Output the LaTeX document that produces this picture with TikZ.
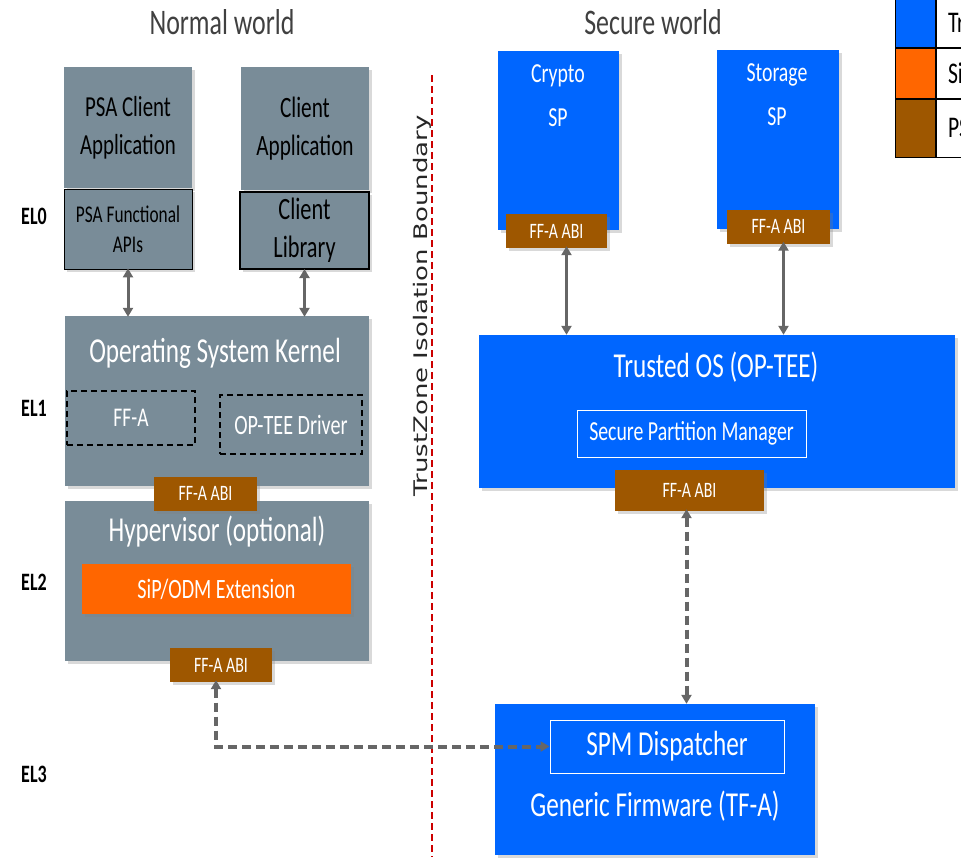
\documentclass[tikz,border=0pt]{standalone}
\usepackage{fontspec}
\setmainfont{Carlito}[FakeStretch=0.72]
\newfontfamily\tzfont{DejaVu Sans}
\usetikzlibrary{arrows.meta, shadows, positioning}
\definecolor{nwgray}{RGB}{121,140,152}
\definecolor{swblue}{RGB}{0,102,255}
\definecolor{sipor}{RGB}{255,102,0}
\definecolor{abibrown}{RGB}{158,87,0}
\definecolor{arrgray}{RGB}{102,102,102}
\definecolor{headgray}{RGB}{64,64,64}
\definecolor{bndred}{RGB}{204,0,0}
\newcommand{\fsz}[1]{\fontsize{#1}{#1}\selectfont}

\begin{document}
\begin{tikzpicture}[x=1pt, y=-1pt,
        basic/.style   = {rectangle, inner sep=0pt, align=center,
                          drop shadow={shadow xshift=3pt, shadow yshift=-3pt, opacity=0.3}},
        nwbox/.style   = {basic, fill=nwgray},
        swbox/.style   = {basic, fill=swblue},
        abi/.style     = {basic, fill=abibrown, text=white, font=\fsz{22},
                          minimum height=34pt},
        inbox/.style   = {draw=white, line width=1pt, inner sep=0pt, text=white},
        drvbox/.style  = {draw=black, line width=2.2pt, dash pattern=on 6pt off 4pt,
                          inner sep=0pt, text=white},
        title/.style   = {text=white, font=\fsz{35}},
        spname/.style  = {text=white, font=\fsz{27.5}},
        el/.style      = {font=\bfseries\fsz{25}},
        head/.style    = {text=headgray, font=\fsz{36}},
        legend/.style  = {draw=black, line width=1pt, inner sep=0pt},
        dbl/.style     = {{Triangle[width=10pt,length=9pt]}-{Triangle[width=10pt,length=9pt]},
                          line width=3pt, draw=arrgray},
        dbldash/.style = {dbl, line width=4pt, dash pattern=on 9pt off 5pt}]

    \useasboundingbox (0,0) rectangle (961,857);

    % headings and exception levels
    \node[head] (nwhead) at (222,22) {Normal world};
    \node[head] (swhead) at (653,22) {Secure world};
    \node[el] (el0) at (34,216) {EL0};
    \node[el] (el1) at (34,408) {EL1};
    \node[el] (el2) at (34,582) {EL2};
    \node[el] (el3) at (34,774) {EL3};

    % legend, cut at the right edge
    \node[legend, fill=swblue, minimum width=40pt, minimum height=49pt] (lg1) at (915,22.5) {};
    \node[legend, fill=sipor, minimum width=40pt, minimum height=50pt, below=0pt of lg1] (lg2) {};
    \node[legend, fill=abibrown, minimum width=40pt, minimum height=58pt, below=0pt of lg2] (lg3) {};
    \node[legend, minimum width=40pt, minimum height=49pt, right=0pt of lg1] (lt1) {};
    \node[legend, minimum width=40pt, minimum height=50pt, right=0pt of lg2] (lt2) {};
    \node[legend, minimum width=40pt, minimum height=58pt, right=0pt of lg3] (lt3) {};
    \node[anchor=west, font=\fsz{30}] at ([xshift=9pt]lt1.west) {Tr};
    \node[anchor=west, font=\fsz{30}] at ([xshift=9pt]lt2.west) {Si};
    \node[anchor=west, font=\fsz{30}] at ([xshift=9pt]lt3.west) {PS};

    % normal world, EL0
    \node[nwbox, minimum width=128pt, minimum height=121pt, font=\fsz{29}] (psaapp) at (128,127.5)
        {PSA Client\\[9pt]Application};
    \node[nwbox, draw=black, line width=0.8pt, minimum width=128pt, minimum height=80pt,
          font=\fsz{24}] (psaapi) at (128,229) {PSA Functional\\[6pt]APIs};
    \node[nwbox, minimum width=128pt, minimum height=123pt, font=\fsz{29.5}] (cliapp) at (305,128.5)
        {Client\\[8pt]Application};
    \node[nwbox, draw=black, line width=2pt, minimum width=129pt, minimum height=77pt,
          font=\fsz{31}] (clilib) at (304.5,230.5) {Client\\[7pt]Library};

    % normal world, EL1 and EL2
    \node[nwbox, minimum width=304pt, minimum height=170pt] (kernel) at (217,401) {};
    \node[title] (kerneltxt) at (215,353) {Operating System Kernel};
    \node[drvbox, minimum width=128pt, minimum height=54pt, font=\fsz{27}] (ffa) at (131,418) {FF-A};
    \node[drvbox, minimum width=142pt, minimum height=59pt, font=\fsz{28}] (optdrv) at (291,424.5)
        {OP-TEE Driver};

    \node[nwbox, minimum width=304pt, minimum height=160pt] (hyp) at (217,581) {};
    \node[title] (hyptxt) at (217,532) {Hypervisor (optional)};
    \node[basic, fill=sipor, text=white, font=\fsz{28}, minimum width=269pt,
          minimum height=50pt] (sip) at (216.5,589) {SiP/ODM Extension};

    \node[abi, minimum width=103pt] (kabi) at (205.5,493.5) {FF-A ABI};
    \node[abi, minimum width=102pt] (habi) at (221,665) {FF-A ABI};

    % secure world partitions
    \node[swbox, minimum width=121pt, minimum height=179pt] (crypto) at (558.5,140.5) {};
    \node[spname] (cryptotxt) at (558,76) {Crypto};
    \node[spname] (cryptosp) at (558,118) {SP};
    \node[abi, minimum width=101pt] (cabi) at (556.5,231) {FF-A ABI};

    \node[swbox, minimum width=122pt, minimum height=179pt] (storage) at (778,139.5) {};
    \node[spname] (storagetxt) at (777,75) {Storage};
    \node[spname] (storagesp) at (777,117) {SP};
    \node[abi, minimum width=103pt] (sabi) at (778.5,226.5) {FF-A ABI};

    % trusted OS and firmware
    \node[swbox, minimum width=476pt, minimum height=153pt] (tos) at (717,411.5) {};
    \node[title] (tostxt) at (716,367) {Trusted OS (OP-TEE)};
    \node[inbox, minimum width=229pt, minimum height=47pt, font=\fsz{27.5}] (spm) at (691.5,433.5)
        {Secure Partition Manager};
    \node[abi, minimum width=149pt, minimum height=41pt] (tabi) at (689.5,490.5) {FF-A ABI};

    \node[swbox, minimum width=320pt, minimum height=151pt] (fw) at (655,779.5) {};
    \node[inbox, minimum width=234pt, minimum height=53pt, font=\fsz{35}] (spmd) at (667,746.5)
        {SPM Dispatcher};
    \node[title] (fwtxt) at (655,806) {Generic Firmware (TF-A)};

    % isolation boundary
    \coordinate (bndtop) at (432,75);
    \coordinate (bndbot) at (432,857);
    \draw[bndred, line width=1.5pt, dash pattern=on 7pt off 4pt] (bndtop) -- (bndbot);
    \node[rotate=90, font=\tzfont\fsz{26}, text=black!85] (tzlbl) at (422,306)
        {\scalebox{1}[0.72]{TrustZone Isolation Boundary}};

    % connectors
    \draw[dbl] ([yshift=1pt]psaapi.south) -- ([yshift=-1pt]psaapi.south |- kernel.north);
    \draw[dbl] ([yshift=1pt]clilib.south) -- ([yshift=-1pt]clilib.south |- kernel.north);
    \draw[dbl] ([xshift=10pt, yshift=2pt]cabi.south) -- ([xshift=10pt]cabi.south |- tos.north);
    \draw[dbl] ([xshift=5pt, yshift=2pt]sabi.south) -- ([xshift=5pt]sabi.south |- tos.north);
    \draw[dbldash] ([xshift=-3pt, yshift=2pt]tabi.south) -- ([xshift=-3pt]tabi.south |- fw.north);
    \draw[dbldash] ([xshift=-5pt, yshift=2pt]habi.south) |- (spmd.west);

\end{tikzpicture}
\end{document}
